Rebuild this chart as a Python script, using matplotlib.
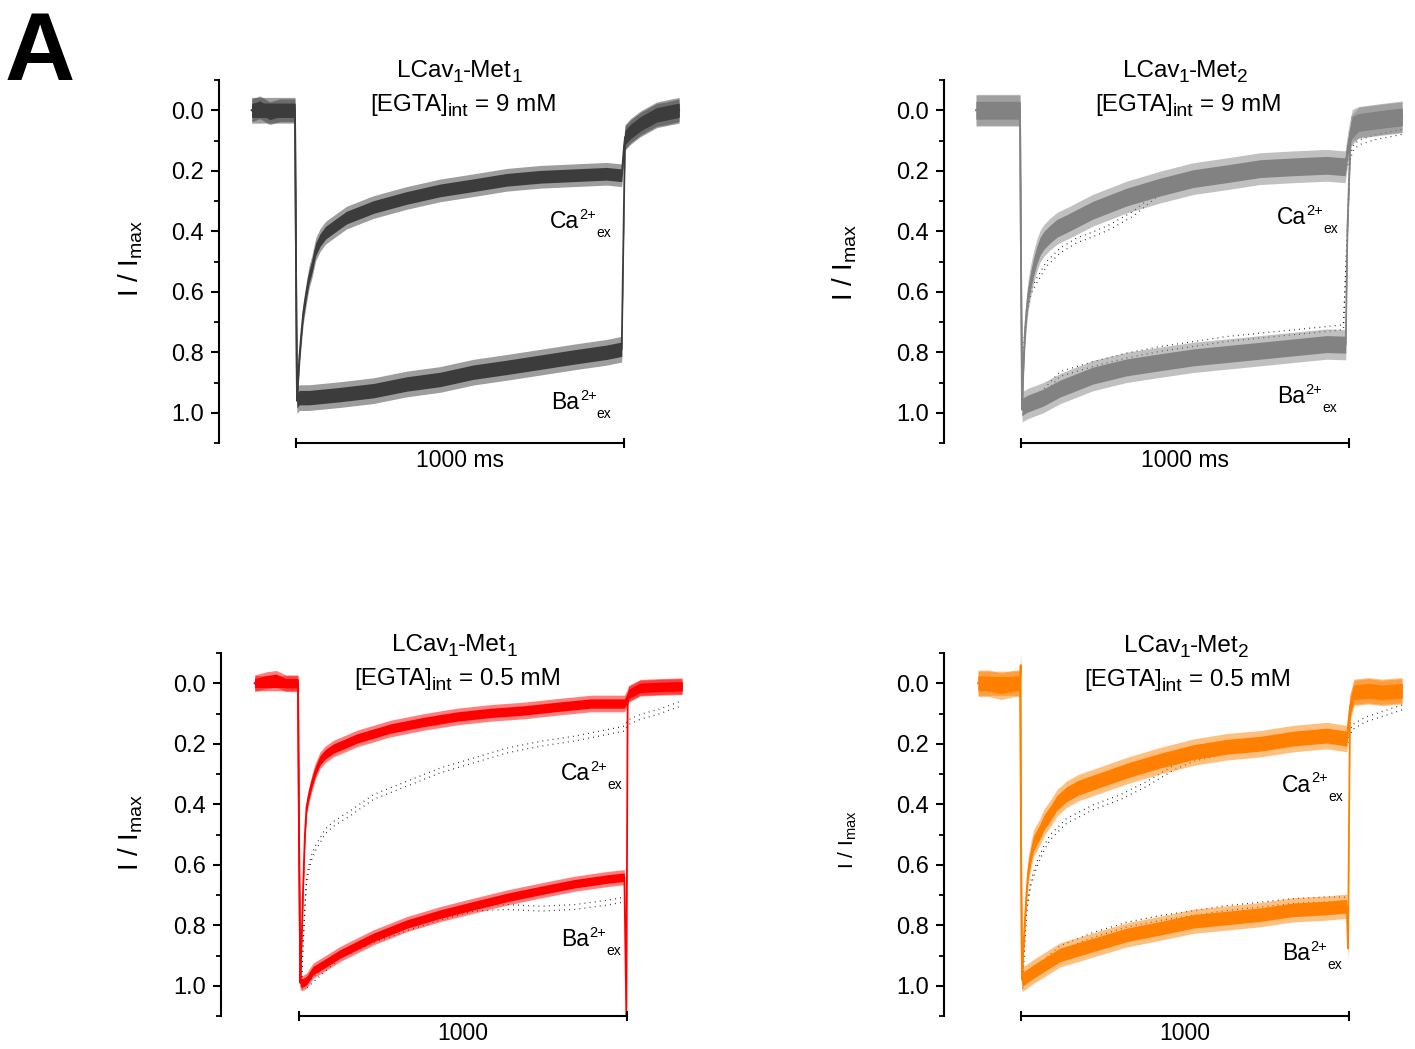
import numpy as np
import matplotlib.pyplot as plt
from matplotlib.transforms import IdentityTransform

plt.rcParams['font.family'] = ['Liberation Sans', 'DejaVu Sans']
plt.rcParams['mathtext.fontset'] = 'custom'
plt.rcParams['mathtext.rm'] = 'Liberation Sans'
plt.rcParams['mathtext.it'] = 'Liberation Sans:italic'
plt.rcParams['mathtext.bf'] = 'Liberation Sans:bold'

# ---- data (time in ms from pulse onset, normalised current I/Imax) ----
# panel 1: LCav1-Met1, 9 mM EGTA
T1_CA = [-135, -110, -80, -50, -20, -3, 0, 3, 6, 10, 16, 22, 32, 40, 48, 60, 73, 90, 114,
         154, 236, 337, 439, 540, 642, 744, 845, 947, 993, 1000, 1003, 1020, 1050, 1100,
         1130, 1168]
CA1 = [0.0, -0.01, 0.01, 0.0, 0.0, 0.0, 0.5, 0.96, 0.9, 0.82, 0.74, 0.67, 0.6, 0.55, 0.52,
       0.46, 0.43, 0.405, 0.386, 0.355, 0.32, 0.29, 0.265, 0.248, 0.23, 0.22, 0.215, 0.21,
       0.215, 0.12, 0.09, 0.07, 0.045, 0.015, 0.01, 0.0]
T1_BA = [-135, -80, -3, 0, 3, 10, 40, 134, 236, 337, 439, 540, 642, 744, 845, 947, 993,
         1000, 1003, 1020, 1050, 1100, 1168]
BA1 = [0.0, 0.0, 0.0, 0.5, 0.96, 0.95, 0.95, 0.94, 0.927, 0.905, 0.89, 0.866, 0.85, 0.833,
       0.816, 0.8, 0.79, 0.3, 0.09, 0.07, 0.045, 0.015, 0.0]

# panel 2: LCav1-Met2, 9 mM EGTA
T2_CA = [-137, -100, -60, -20, -3, 0, 3, 7, 12, 17, 22, 30, 38, 48, 58, 70, 88, 110, 139,
         220, 322, 424, 525, 627, 729, 830, 932, 988, 1000, 1010, 1030, 1100, 1162]
CA2 = [0.0, 0.0, 0.0, 0.0, 0.0, 0.5, 0.99, 0.85, 0.73, 0.66, 0.61, 0.56, 0.52, 0.48, 0.45,
       0.43, 0.41, 0.39, 0.375, 0.33, 0.287, 0.254, 0.226, 0.21, 0.193, 0.187, 0.182,
       0.187, 0.1, 0.05, 0.04, 0.03, 0.022]
T2_BA = [-137, -60, -3, 0, 4, 20, 68, 119, 220, 322, 424, 525, 627, 729, 830, 932, 990,
         995, 1005, 1030, 1100, 1162]
BA2 = [0.0, 0.0, 0.0, 0.5, 0.98, 0.97, 0.95, 0.92, 0.877, 0.85, 0.833, 0.817, 0.806, 0.795,
       0.784, 0.773, 0.775, 0.4, 0.07, 0.04, 0.03, 0.022]
T2_DCA = [3, 10, 17, 30, 48, 78, 119, 170, 220, 271, 342, 424, 525, 627, 729, 830, 932, 990,
          1003, 1015, 1034, 1085, 1160]
DCA2 = [0.98, 0.76, 0.67, 0.6, 0.563, 0.508, 0.464, 0.43, 0.41, 0.386, 0.342, 0.27, 0.24,
        0.22, 0.205, 0.195, 0.19, 0.19, 0.155, 0.12, 0.105, 0.088, 0.072]
T2_DBA = [5, 17, 119, 220, 322, 424, 525, 627, 729, 830, 932, 983, 995, 1003]
DBA2 = [1.0, 0.99, 0.872, 0.839, 0.811, 0.789, 0.773, 0.756, 0.745, 0.734, 0.723, 0.717,
        0.4, 0.155]

# panel 3: LCav1-Met1, 0.5 mM EGTA
T3_CA = [-135, -100, -70, -40, -3, 0, 4, 8, 13, 18, 23, 30, 39, 50, 64, 80, 105, 140, 176,
         278, 380, 482, 584, 686, 788, 890, 992, 1000, 1005, 1040, 1100, 1168]
CA3 = [0.0, -0.01, -0.015, 0.0, 0.0, 0.5, 0.99, 0.85, 0.66, 0.5, 0.41, 0.37, 0.33, 0.29,
       0.255, 0.235, 0.216, 0.2, 0.183, 0.15, 0.128, 0.11, 0.098, 0.09, 0.078, 0.067,
       0.067, 0.05, 0.035, 0.015, 0.012, 0.01]
T3_BA = [-135, -60, -3, 0, 4, 13, 23, 43, 84, 125, 227, 329, 431, 533, 635, 737, 839, 941,
         992, 998, 1002, 1005, 1040, 1100, 1168]
BA3 = [0.0, 0.0, 0.0, 0.5, 0.99, 0.99, 0.983, 0.95, 0.923, 0.895, 0.84, 0.796, 0.763, 0.735,
       0.708, 0.685, 0.663, 0.647, 0.641, 1.1, 0.05, 0.035, 0.015, 0.012, 0.01]
T3_DCA = [8, 13, 18, 23, 30, 39, 50, 64, 80, 105, 156, 227, 329, 431, 533, 635, 737, 839,
          941, 992, 1002, 1043, 1094, 1165]
DCA3 = [0.98, 0.85, 0.74, 0.652, 0.61, 0.575, 0.545, 0.52, 0.49, 0.465, 0.43, 0.376, 0.332,
        0.288, 0.255, 0.222, 0.2, 0.183, 0.161, 0.15, 0.13, 0.11, 0.095, 0.067]
T3_DBA = [10, 23, 125, 227, 329, 431, 533, 635, 737, 839, 941, 992]
DBA3 = [1.0, 1.0, 0.9, 0.85, 0.81, 0.775, 0.745, 0.74, 0.745, 0.74, 0.725, 0.715]

# panel 4: LCav1-Met2, 0.5 mM EGTA
T4_CA = [-131, -100, -60, -20, -3, -1, 0, 3, 7, 12, 17, 22, 30, 38, 48, 58, 70, 88, 110,
         139, 175, 220, 322, 424, 525, 627, 729, 830, 932, 993, 1003, 1015, 1060, 1100, 1162]
CA4 = [0.0, 0.0, 0.01, 0.0, 0.0, -0.06, 0.5, 0.98, 0.88, 0.78, 0.69, 0.62, 0.57, 0.53, 0.51,
       0.49, 0.46, 0.433, 0.395, 0.367, 0.345, 0.328, 0.289, 0.256, 0.228, 0.21, 0.2, 0.183,
       0.173, 0.183, 0.08, 0.03, 0.025, 0.03, 0.025]
T4_BA = [-131, -60, -3, 0, 3, 7, 38, 119, 220, 322, 424, 525, 627, 729, 830, 932, 993, 997,
         1003, 1015, 1060, 1100, 1162]
BA4 = [0.0, 0.0, 0.0, 0.5, 0.98, 0.977, 0.953, 0.898, 0.865, 0.832, 0.81, 0.787, 0.776, 0.765,
       0.749, 0.743, 0.737, 0.876, 0.08, 0.03, 0.025, 0.03, 0.025]
T4_DCA = [5, 17, 30, 48, 68, 88, 139, 220, 302, 383, 464, 525, 627, 729, 830, 932, 993, 1010,
          1050, 1162]
DCA4 = [0.98, 0.75, 0.66, 0.6, 0.55, 0.51, 0.455, 0.41, 0.377, 0.333, 0.28, 0.25, 0.225,
        0.205, 0.19, 0.18, 0.2, 0.145, 0.12, 0.08]
T4_DBA = [5, 40, 119, 220, 322, 424, 525, 627, 729, 830, 932, 993]
DBA4 = [1.0, 0.95, 0.876, 0.832, 0.798, 0.776, 0.76, 0.743, 0.732, 0.72, 0.715, 0.715]

NOISE1 = (0.03, 0.034)
NOISE2 = (0.042, 0.04)
NOISE3 = (0.022, 0.02)
NOISE4 = (0.035, 0.032)

TITLE_MET = ['1', '2', '1', '2']
TITLE_EGTA = ['9', '9', '0.5', '0.5']
SCALE_MS = 1000
SCALE_LABELS = ['1000 ms', '1000 ms', '1000', '1000']
MAJOR = [0.0, 0.2, 0.4, 0.6, 0.8, 1.0]
MINOR = [-0.1, 0.1, 0.3, 0.5, 0.7, 0.9, 1.1]

DARK = '#3c3c3c'
GRAY = '#828282'
RED = '#ff0000'
ORANGE = '#ff8000'

W, H = 1415, 1049
fig = plt.figure(figsize=(W / 100, H / 100), dpi=100)


def px(x, y):
    return x / W, 1 - y / H


def setup(left, top, right, onset, label):
    bottom = top + 363
    ax = fig.add_axes([left / W, 1 - bottom / H, (right - left) / W, 363 / H])
    ax.set_xlim((left - onset) / 0.328, (right - onset) / 0.328)
    ax.set_ylim(1.1, -0.1)
    for s in ('top', 'right', 'bottom'):
        ax.spines[s].set_visible(False)
    ax.spines['left'].set_linewidth(1.5)
    ax.set_xticks([])
    ax.set_yticks(MAJOR)
    ax.set_yticklabels(['%.1f' % v for v in MAJOR])
    ax.set_yticks(MINOR, minor=True)
    ax.tick_params(axis='y', which='major', direction='out', length=6, width=1.5,
                   labelsize=17, pad=5)
    ax.tick_params(axis='y', which='minor', direction='out', length=3.5, width=1.3)
    ax.patch.set_alpha(0)
    ax.plot([0, SCALE_MS], [1.1, 1.1], color='k', lw=1.5, clip_on=False, zorder=5)
    ax.plot([0, SCALE_MS], [1.1, 1.1], ls='none', marker='|', ms=7, mew=1.5, color='k',
            clip_on=False, zorder=5)
    ax.annotate(label, xy=(SCALE_MS / 2, 1.1), xytext=(0, -4), textcoords='offset points',
                ha='center', va='top', fontsize=16.5, annotation_clip=False)
    return ax


def trace(ax, t, v, noise, color):
    t = np.asarray(t, float)
    v = np.asarray(v, float)
    # soft outer band stands in for the spiky noise, solid core follows the mean
    ax.fill_between(t, v - 1.25 * noise, v + 1.25 * noise, color=color, lw=0, alpha=0.5,
                    zorder=3)
    ax.fill_between(t, v - 0.7 * noise, v + 0.7 * noise, color=color, lw=0, zorder=3)
    ax.plot(t, v, color=color, lw=1.3, zorder=3)


def dotted(ax, t, v):
    v = np.asarray(v, float)
    for off in (-0.008, 0.008):
        ax.plot(t, v + off, color='k', lw=0.9, ls=(0, (0.6, 3.5)), zorder=2)


def ion(ax, x, y, name):
    base = ax.text(x, y, name, fontsize=16.5, ha='left', va='baseline', zorder=6)
    sup = ax.annotate('2+', xy=(1, 1), xycoords=base, xytext=(0.5, -3.5),
                      textcoords='offset points', ha='left', va='center', fontsize=10.5)
    ax.annotate('ex', xy=(1, 0), xycoords=(sup, base), xytext=(0, 0),
                textcoords='offset points', ha='left', va='center', fontsize=10)


renderer = fig.canvas.get_renderer()


def rich(xc, ybase, parts, fs=17.5):
    # parts: (text, size scale, drop in em, gap before in em); centred at xc
    em = fs * 100 / 72
    arts = []
    total = 0
    for s, scale, drop, gap in parts:
        t = fig.text(0, 0, s, fontsize=fs * scale, ha='left', va='baseline',
                     transform=IdentityTransform())
        w = t.get_window_extent(renderer).width
        arts.append((t, drop, gap, w))
        total += gap * em + w
    x = xc - total / 2
    for t, drop, gap, w in arts:
        x += gap * em
        t.set_position((x, H - ybase - drop * em))
        x += w - 0.5


ax1 = setup(219, 80, 700, 296, SCALE_LABELS[0])
ax2 = setup(944, 80, 1415, 1021, SCALE_LABELS[1])
ax3 = setup(221, 653, 700, 299, SCALE_LABELS[2])
ax4 = setup(944, 653, 1415, 1021, SCALE_LABELS[3])

trace(ax1, T1_BA, BA1, NOISE1[1], DARK)
trace(ax1, T1_CA, CA1, NOISE1[0], DARK)

dotted(ax2, T2_DCA, DCA2)
dotted(ax2, T2_DBA, DBA2)
trace(ax2, T2_BA, BA2, NOISE2[1], GRAY)
trace(ax2, T2_CA, CA2, NOISE2[0], GRAY)

dotted(ax3, T3_DCA, DCA3)
dotted(ax3, T3_DBA, DBA3)
trace(ax3, T3_BA, BA3, NOISE3[1], RED)
trace(ax3, T3_CA, CA3, NOISE3[0], RED)

dotted(ax4, T4_DCA, DCA4)
dotted(ax4, T4_DBA, DBA4)
trace(ax4, T4_BA, BA4, NOISE4[1], ORANGE)
trace(ax4, T4_CA, CA4, NOISE4[0], ORANGE)

ion(ax1, 774, 0.39, 'Ca')
ion(ax1, 778, 0.987, 'Ba')
ion(ax2, 780, 0.375, 'Ca')
ion(ax2, 780, 0.969, 'Ba')
ion(ax3, 798, 0.321, 'Ca')
ion(ax3, 798, 0.868, 'Ba')
ion(ax4, 795, 0.358, 'Ca')
ion(ax4, 795, 0.915, 'Ba')

# titles
title_pos = [(460, 77, 464, 111), (1186, 77, 1189, 111), (455, 651, 458, 685),
             (1187, 652, 1188, 686)]
for (x1, y1, x2, y2), met, egta in zip(title_pos, TITLE_MET, TITLE_EGTA):
    rich(x1, y1, [('LCav', 1, 0, 0), ('1', 0.78, 0.2, 0), ('-Met', 1, 0, 0),
                  (met, 0.78, 0.2, 0)])
    rich(x2, y2, [('[EGTA]', 1, 0, 0), ('int', 0.8, 0.22, 0),
                  ('= %s mM' % egta, 1, 0, 0.28)])

# y labels
ylab = r'I / I$_{\mathrm{max}}$'
fig.text(*px(131, 258), ylab, rotation=90, ha='center', va='center', fontsize=20)
fig.text(*px(845, 262), ylab, rotation=90, ha='center', va='center', fontsize=20)
fig.text(*px(131, 832), ylab, rotation=90, ha='center', va='center', fontsize=20)
fig.text(*px(848, 840), ylab, rotation=90, ha='center', va='center', fontsize=15)

fig.text(*px(5, 80), 'A', fontsize=70, fontweight='bold', ha='left', va='baseline')

fig.savefig('out.png', dpi=100)
